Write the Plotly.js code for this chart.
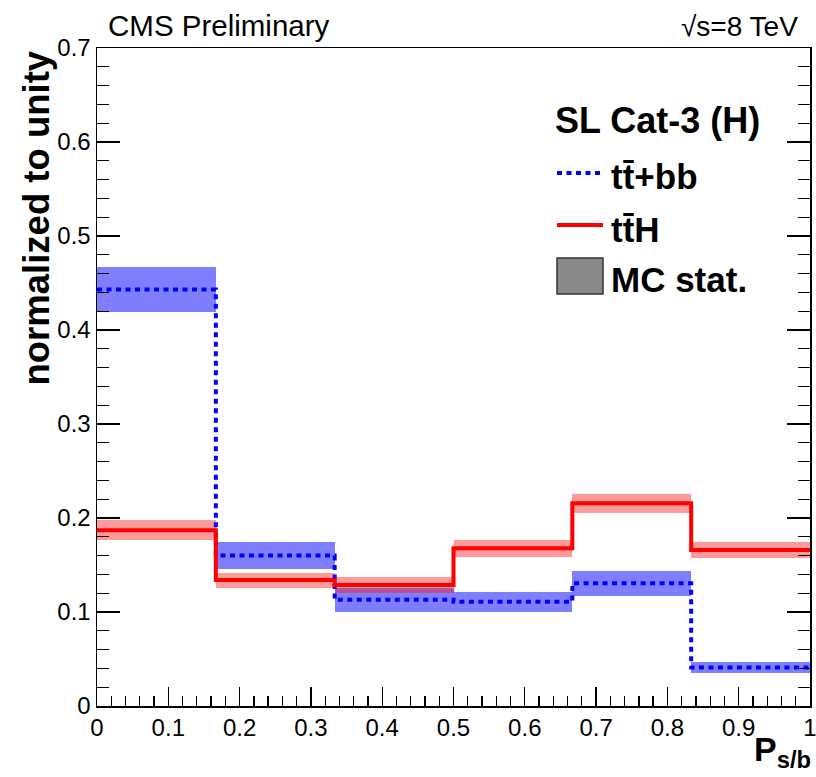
<!DOCTYPE html>
<html>
<head>
<meta charset="utf-8">
<script src="https://cdn.plot.ly/plotly-3.0.1.min.js"></script>
<style>html,body{margin:0;padding:0;background:#fff;}#chart{width:816px;height:777px;}</style>
</head>
<body>
<div id="chart"></div>
<script>
// Bin edges of P_s/b (6 equal bins)
const binEdges = [0, 1/6, 2/6, 3/6, 4/6, 5/6, 1];
// tt+bb (blue, dotted) normalized values and MC stat. uncertainty
const ttbbVal = [0.443, 0.160, 0.113, 0.111, 0.1305, 0.041];
const ttbbErr = [0.0235, 0.0144, 0.0128, 0.0107, 0.0132, 0.0062];
// ttH (red, solid) normalized values and MC stat. uncertainty
const tthVal = [0.187, 0.134, 0.1287, 0.1677, 0.2156, 0.166];
const tthErr = [0.0104, 0.008, 0.0082, 0.0093, 0.0100, 0.0089];
const yTickVals = [0, 0.1, 0.2, 0.3, 0.4, 0.5, 0.6, 0.7];
const xTickVals = [0, 0.1, 0.2, 0.3, 0.4, 0.5, 0.6, 0.7, 0.8, 0.9, 1];

const centers = binEdges.slice(0, -1).map((e, i) => (e + binEdges[i + 1]) / 2);
const widths = binEdges.slice(0, -1).map((e, i) => binEdges[i + 1] - e);

function band(vals, errs, color) {
  return {
    type: 'bar', x: centers, width: widths,
    base: vals.map((v, i) => v - errs[i]),
    y: errs.map(e => 2 * e),
    marker: {color: color, line: {width: 0}},
    hoverinfo: 'skip', showlegend: false
  };
}
function step(vals, color, dash) {
  return {
    type: 'scatter', mode: 'lines', x: binEdges,
    y: vals.concat([vals[vals.length - 1]]),
    line: {shape: 'hv', color: color, width: 4, dash: dash},
    showlegend: false
  };
}

const traces = [
  band(ttbbVal, ttbbErr, 'rgba(20,20,255,0.55)'),
  step(ttbbVal, '#0000ff', '5px,4.5px'),
  band(tthVal, tthErr, 'rgba(255,30,30,0.45)'),
  step(tthVal, '#ff0000', 'solid')
];

// pixel -> paper helpers for decorations
const L = 97, R = 810, T = 48, B = 706;
const px = p => (p - L) / (R - L);
const py = p => (B - p) / (B - T);
const F = 'Liberation Sans, Arial, Helvetica, sans-serif';

const layout = {
  width: 816, height: 777,
  margin: {l: L, r: 816 - R, t: T, b: 777 - B, pad: 0},
  paper_bgcolor: '#fff', plot_bgcolor: '#fff',
  barmode: 'overlay', bargap: 0,
  showlegend: false,
  font: {family: F, color: '#000'},
  xaxis: {
    range: [0, 1], tickvals: xTickVals, ticktext: xTickVals.map(String),
    ticks: 'inside', ticklen: 19, tickwidth: 1.3, tickcolor: '#000',
    minor: {dtick: 0.02, ticks: 'inside', ticklen: 10, tickwidth: 1.3, tickcolor: '#000'},
    showline: true, linecolor: '#000', linewidth: 1.5, mirror: true,
    showgrid: false, zeroline: false, ticklabeloverflow: 'allow',
    tickfont: {family: F, size: 24, color: '#000'}
  },
  yaxis: {
    range: [0, 0.7], tickvals: yTickVals, ticktext: yTickVals.map(String),
    ticks: 'inside', ticklen: 23, tickwidth: 1.3, tickcolor: '#000',
    minor: {dtick: 0.02, ticks: 'inside', ticklen: 12, tickwidth: 1.3, tickcolor: '#000'},
    showline: true, linecolor: '#000', linewidth: 1.5, mirror: 'ticks',
    showgrid: false, zeroline: false, ticklabeloverflow: 'allow',
    tickfont: {family: F, size: 24, color: '#000'}
  },
  shapes: [
    {type: 'line', xref: 'paper', yref: 'paper', x0: px(557), x1: px(601), y0: py(173), y1: py(173),
     line: {color: '#0000ff', width: 4, dash: '5px,4.5px'}},
    {type: 'line', xref: 'paper', yref: 'paper', x0: px(557), x1: px(603), y0: py(225), y1: py(225),
     line: {color: '#ff0000', width: 4}},
    {type: 'rect', xref: 'paper', yref: 'paper', x0: px(557), x1: px(603), y0: py(294), y1: py(258),
     fillcolor: '#8a8a8a', line: {color: '#333', width: 1.5}}
  ],
  annotations: [
    {xref: 'paper', yref: 'paper', x: px(106), y: py(44), xanchor: 'left', yanchor: 'bottom',
     text: 'CMS Preliminary', showarrow: false, font: {family: F, size: 29.5}},
    {xref: 'paper', yref: 'paper', x: px(800), y: py(44), xanchor: 'right', yanchor: 'bottom',
     text: '\u221As=8 TeV', showarrow: false, font: {family: F, size: 28}},
    {xref: 'paper', yref: 'paper', x: px(36), y: py(49), xanchor: 'center', yanchor: 'top',
     textangle: -90, text: '<b>normalized to unity</b>', showarrow: false, font: {family: F, size: 36.5}},
    {xref: 'paper', yref: 'paper', x: px(813), y: py(728), xanchor: 'right', yanchor: 'top',
     text: '<b>P<sub>s/b</sub></b>', showarrow: false, font: {family: F, size: 34}},
    {xref: 'paper', yref: 'paper', x: px(553), y: py(121), xanchor: 'left', yanchor: 'middle',
     text: '<b>SL Cat-3 (H)</b>', showarrow: false, font: {family: F, size: 36}},
    {xref: 'paper', yref: 'paper', x: px(609), y: py(177), xanchor: 'left', yanchor: 'middle',
     text: '<b>tt\u0304+bb</b>', showarrow: false, font: {family: F, size: 35}},
    {xref: 'paper', yref: 'paper', x: px(609), y: py(230), xanchor: 'left', yanchor: 'middle',
     text: '<b>tt\u0304H</b>', showarrow: false, font: {family: F, size: 35}},
    {xref: 'paper', yref: 'paper', x: px(609), y: py(279), xanchor: 'left', yanchor: 'middle',
     text: '<b>MC stat.</b>', showarrow: false, font: {family: F, size: 35}}
  ]
};

Plotly.newPlot('chart', traces, layout, {staticPlot: true, displayModeBar: false});
</script>
</body>
</html>
